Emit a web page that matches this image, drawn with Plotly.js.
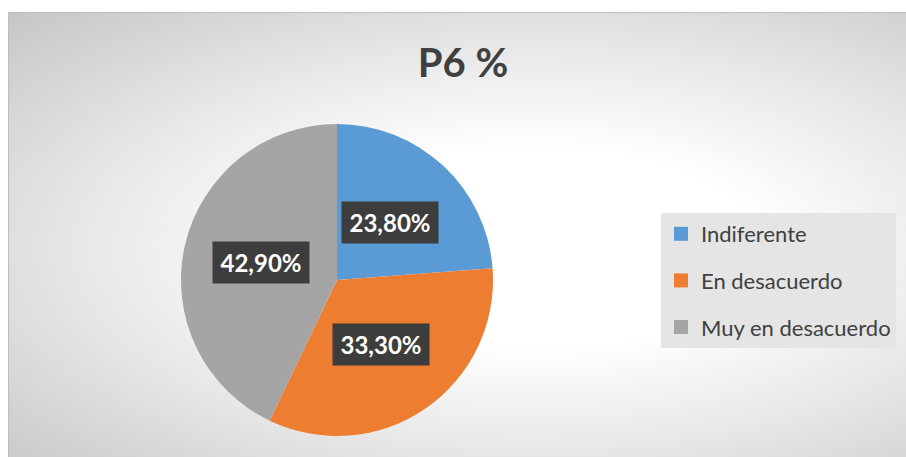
<!DOCTYPE html>
<html>
<head>
<meta charset="utf-8">
<script src="https://cdn.plot.ly/plotly-3.0.1.min.js"></script>
<style>
  html, body { margin:0; padding:0; background:#ffffff; }
  #frame {
    position:absolute; left:8px; top:12px; width:906px; height:452px;
    border-top:1px solid #bdbdbd; border-left:1px solid #bdbdbd;
    background: radial-gradient(ellipse farthest-corner at 58% 52%, #ffffff 0%, #ffffff 30%, #e8e8e8 60%, #c6c6c6 100%);
  }
  #chart { position:absolute; left:0; top:0; width:906px; height:457px; }
</style>
</head>
<body>
<div id="frame"></div>
<div id="chart"></div>
<script>
// ---- data ----
const categories = ["Indiferente", "En desacuerdo", "Muy en desacuerdo"];
const percentValues = [23.8, 33.3, 42.9];
const chartTitle = "P6 %";

// ---- styling / layout constants ----
const sliceColors = ["#5B9BD5", "#ED7D31", "#A5A5A5"];
const W = 906, H = 457;
const cx = 337, cy = 280, r = 156;
const labelFrac = 0.5;

function fmt(v) { return v.toFixed(2).replace(".", ",") + "%"; }

const pieDomain = {
  x: [(cx - r) / W, (cx + r) / W],
  y: [1 - (cy + r) / H, 1 - (cy - r) / H]
};

const traces = [{
  type: "pie",
  labels: categories,
  values: percentValues,
  sort: false,
  direction: "clockwise",
  rotation: 0,
  marker: { colors: sliceColors, line: { width: 0 } },
  textinfo: "none",
  hoverinfo: "label+percent",
  showlegend: false,
  domain: pieDomain
}];

// legend entries (one per category) so spacing between them can be controlled
categories.forEach((c, i) => {
  traces.push({
    type: "scatter", x: [null], y: [null], mode: "markers",
    name: c, legendgroup: "g" + i, showlegend: true,
    marker: { symbol: "square", size: 14, color: sliceColors[i] },
    hoverinfo: "skip"
  });
});

// data labels positioned at the middle of each slice (computed from the values)
const total = percentValues.reduce((a, b) => a + b, 0);
const annotations = [];
let cum = 0;
percentValues.forEach((v, i) => {
  const mid = (cum + v / 2) / total * 2 * Math.PI;
  cum += v;
  const px = cx + labelFrac * r * Math.sin(mid);
  const py = cy - labelFrac * r * Math.cos(mid);
  annotations.push({
    xref: "paper", yref: "paper", showarrow: false,
    x: px / W, y: 1 - py / H, xanchor: "center", yanchor: "middle",
    width: 84, height: 29, borderpad: 6,
    text: "<b>" + fmt(v) + "</b>",
    bgcolor: "#3d3d3d",
    font: { family: "Lato, 'Open Sans', sans-serif", size: 24, color: "#ffffff" }
  });
});

const layout = {
  width: W, height: H,
  margin: { l: 0, r: 0, t: 0, b: 0 },
  paper_bgcolor: "rgba(0,0,0,0)",
  plot_bgcolor: "rgba(0,0,0,0)",
  title: {
    text: "<b>" + chartTitle + "</b>",
    font: { family: "Lato, 'Open Sans', sans-serif", size: 40, color: "#404040" },
    x: 463 / W, xanchor: "center",
    y: 1 - 63 / H, yanchor: "middle", yref: "container"
  },
  xaxis: { visible: false },
  yaxis: { visible: false },
  showlegend: true,
  legend: {
    x: 661 / W, xanchor: "left",
    y: 1 - 213 / H, yanchor: "top",
    bgcolor: "#e5e5e5",
    borderwidth: 0,
    traceorder: "grouped",
    tracegroupgap: 15,
    itemclick: false,
    font: { family: "Lato, 'Open Sans', sans-serif", size: 22, color: "#404040" }
  },
  annotations: annotations
};

Plotly.newPlot("chart", traces, layout, { displayModeBar: false, staticPlot: true });
</script>
</body>
</html>
